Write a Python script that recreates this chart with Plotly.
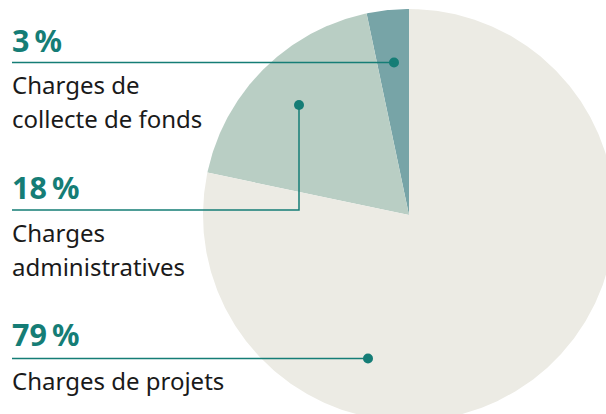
import numpy as np
import plotly.graph_objects as go

categories = ["Charges de collecte de fonds", "Charges administratives", "Charges de projets"]
values = [3.3, 18.4, 78.3]          # slice sizes
pct_labels = ["3\u202f%", "18\u202f%", "79\u202f%"]
desc_labels = ["Charges de<br>collecte de fonds", "Charges<br>administratives", "Charges de projets"]

colors = ["#77a4a7", "#b9cec4", "#ecebe4"]
TEAL = "#157d76"
W, H = 606, 414
CX, CY, R = 409, 215, 206  # pie centre/radius in pixels


def px(x):
    return x / W


def py(y):
    return 1 - y / H


fig = go.Figure()
total = sum(values)
start = 0.0
for cat, v, col in zip(categories, values, colors):
    end = start + v / total * 360
    th = np.radians(np.linspace(start, end, max(int((end - start) * 2), 4)))
    xs = np.concatenate([[0], -np.sin(th), [0]])
    ys = np.concatenate([[0], np.cos(th), [0]])
    fig.add_trace(go.Scatter(x=xs, y=ys, fill="toself", fillcolor=col, mode="lines",
                             line=dict(width=0, color=col), name=cat, hoverinfo="name"))
    start = end

# axes in pie units
x0 = (0 - CX) / R
x1 = (W - CX) / R
y1 = (CY - 0) / R
y0 = (CY - H) / R
fig.update_xaxes(range=[x0, x1], visible=False, fixedrange=True)
fig.update_yaxes(range=[y0, y1], visible=False, fixedrange=True)

# leader lines (pixel positions)
line_style = dict(color=TEAL, width=1.5)
shapes = [
    dict(type="line", xref="paper", yref="paper", x0=px(12), y0=py(62.5), x1=px(394), y1=py(62.5), line=line_style),
    dict(type="path", xref="paper", yref="paper",
         path=f"M {px(12)} {py(210)} L {px(299)} {py(210)} L {px(299)} {py(105)}", line=line_style),
    dict(type="line", xref="paper", yref="paper", x0=px(12), y0=py(358.5), x1=px(368), y1=py(358.5), line=line_style),
]
fig.update_layout(shapes=shapes)

dots = [(394, 62.5), (299, 105), (368, 358.5)]
fig.add_trace(go.Scatter(x=[(d[0] - CX) / R for d in dots], y=[(CY - d[1]) / R for d in dots],
                         mode="markers", marker=dict(size=10, color=TEAL), hoverinfo="skip", showlegend=False))

FONT = "Noto Sans"
PCT_SIZE, DESC_SIZE = 30.5, 24
pct_base = [52, 199, 346]          # baselines (px)
desc_base = [94, 241.5, 390]
DESC_LEAD = 34
for i in range(3):
    fig.add_annotation(xref="paper", yref="paper", x=px(10), y=py(pct_base[i] - 0.388 * PCT_SIZE),
                       xanchor="left", yanchor="middle",
                       text=f"<b>{pct_labels[i]}</b>", showarrow=False,
                       font=dict(family=FONT, size=PCT_SIZE, color=TEAL))
    for j, line in enumerate(desc_labels[i].split("<br>")):
        fig.add_annotation(xref="paper", yref="paper", x=px(10),
                           y=py(desc_base[i] + j * DESC_LEAD - 0.388 * DESC_SIZE),
                           xanchor="left", yanchor="middle",
                           text=line, showarrow=False, align="left",
                           font=dict(family=FONT, size=DESC_SIZE, color="#1a1a1a"))

fig.update_layout(width=W, height=H, margin=dict(l=0, r=0, t=0, b=0), showlegend=False,
                  paper_bgcolor="white", plot_bgcolor="white")
fig.write_html("out.html", config={"displayModeBar": False},
               post_script="document.body.style.margin='0';document.body.style.overflow='hidden';")
